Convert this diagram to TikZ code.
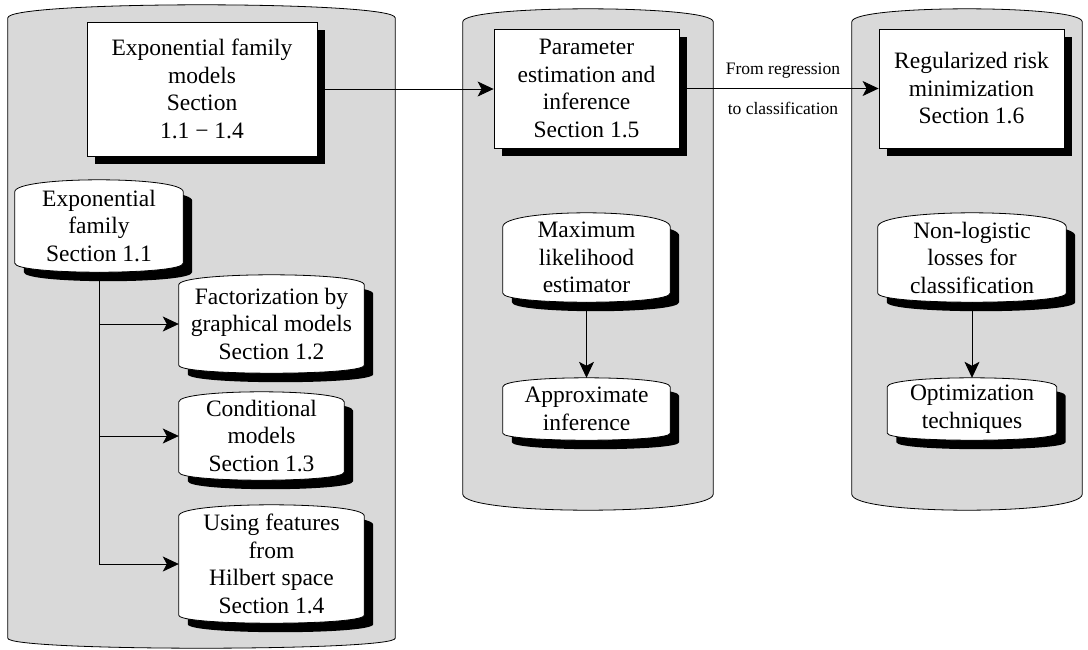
\documentclass[tikz,border=0pt]{standalone}
\usepackage{fontspec}
\setmainfont{Liberation Serif}
\usetikzlibrary{calc,arrows.meta}
\pgfdeclarelayer{background}
\pgfsetlayers{background,main}
\definecolor{panelgray}{RGB}{217,217,217}
% #1 node name, #2 top bulge, #3 bottom bulge
\newcommand\barrel[3]{%
  \begin{pgfonlayer}{background}
  \fill[black] ([shift={(9,9+#2)}]#1.north west) -- ([shift={(9,9-#3)}]#1.south west)
    .. controls +(0,#3*1.333) and +(0,#3*1.333) .. ([shift={(9,9-#3)}]#1.south east)
    -- ([shift={(9,9+#2)}]#1.north east)
    .. controls +(0,-#2*1.333) and +(0,-#2*1.333) .. ([shift={(9,9+#2)}]#1.north west) -- cycle;
  \filldraw[fill=white,draw=black,line width=0.8pt] ([shift={(0,#2)}]#1.north west) -- ([shift={(0,-#3)}]#1.south west)
    .. controls +(0,#3*1.333) and +(0,#3*1.333) .. ([shift={(0,-#3)}]#1.south east)
    -- ([shift={(0,#2)}]#1.north east)
    .. controls +(0,-#2*1.333) and +(0,-#2*1.333) .. ([shift={(0,#2)}]#1.north west) -- cycle;
  \end{pgfonlayer}}
\newcommand\panel[3]{%
  \begin{pgfonlayer}{background}
  \filldraw[fill=panelgray,draw=black,line width=0.8pt] ([shift={(0,#2)}]#1.north west) -- ([shift={(0,-#3)}]#1.south west)
    .. controls +(0,#3*1.333) and +(0,#3*1.333) .. ([shift={(0,-#3)}]#1.south east)
    -- ([shift={(0,#2)}]#1.north east)
    .. controls +(0,-#2*1.333) and +(0,-#2*1.333) .. ([shift={(0,#2)}]#1.north west) -- cycle;
  \end{pgfonlayer}}
\newcommand\rshadow[1]{%
  \begin{pgfonlayer}{background}
  \fill[black] ([shift={(8,8)}]#1.north west) rectangle ([shift={(8,8)}]#1.south east);
  \end{pgfonlayer}}
\begin{document}
\begin{tikzpicture}[x=1pt,y=-1pt,
  txt/.style={font=\fontsize{23.5}{27.5}\selectfont, align=center, inner sep=0pt},
  rbox/.style={txt, draw, fill=white, line width=0.8pt},
  brl/.style={txt},
  pnl/.style={inner sep=0pt},
  arr/.style={-{Stealth[length=16pt,width=15pt,inset=4pt]}, line width=0.8pt},
  con/.style={line width=0.8pt},
  lbl/.style={font=\fontsize{17.5}{21}\selectfont, inner sep=0pt, anchor=base}]
\useasboundingbox (0,0) rectangle (1088,649);

% panels
\node[pnl, minimum width=387pt, minimum height=643pt] (P1) at (201.5,326.5) {};
\node[pnl, minimum width=250pt, minimum height=501pt] (P2) at (588,259.5) {};
\node[pnl, minimum width=230pt, minimum height=501pt] (P3) at (967,259.5) {};
\panel{P1}{13}{10}
\panel{P2}{13}{16}
\panel{P3}{13}{16}

% rectangular boxes
\node[rbox, minimum width=230pt, minimum height=134pt] (A) at (202,89)
  {Exponential family\\models\\Section\\1.1 − 1.4};
\rshadow{A}
\node[rbox, minimum width=185pt, minimum height=119pt] (B) at (586.5,88.5)
  {Parameter\\estimation and\\inference\\Section 1.5};
\rshadow{B}
\node[rbox, minimum width=185pt, minimum height=119pt] (C) at (971.5,88.5)
  {Regularized risk\\minimization\\Section 1.6};
\rshadow{C}

% barrel boxes
\node[brl, minimum width=168pt, minimum height=92pt] (E1) at (99,226) {Exponential\\family\\Section 1.1};
\barrel{E1}{12}{9}
\node[brl, minimum width=185pt, minimum height=98pt] (E2) at (271.5,324) {Factorization by\\graphical models\\Section 1.2};
\barrel{E2}{10}{8}
\node[brl, minimum width=165pt, minimum height=88pt] (E3) at (261.5,436) {Conditional\\models\\Section 1.3};
\barrel{E3}{10}{8}
\node[brl, minimum width=185pt, minimum height=118pt] (E4) at (271.5,564) {Using features\\from\\Hilbert space\\Section 1.4};
\barrel{E4}{11}{8}
\node[brl, minimum width=167pt, minimum height=89pt] (M1) at (586.5,257.5) {Maximum\\likelihood\\estimator};
\barrel{M1}{14}{9}
\node[brl, minimum width=167pt, minimum height=62pt] (M2) at (586.5,409) {Approximate\\inference};
\barrel{M2}{9}{7}
\node[brl, minimum width=188pt, minimum height=89pt] (R1) at (972,257.5) {Non-logistic\\losses for\\classification};
\barrel{R1}{14}{9}
\node[brl, minimum width=169pt, minimum height=62pt] (R2) at (972,409) {Optimization\\techniques};
\barrel{R2}{9}{7}

% connectors
\draw[arr] (A.east) -- (A.east -| B.west);
\draw[arr] (B.east) -- (B.east -| C.west)
  node[lbl, pos=0.52, yshift=14pt] {From regression}
  node[lbl, pos=0.52, yshift=-26pt] {to classification};
\draw[con] (E1.south) -- (E1.south |- E4.west);
\draw[arr] (E1.south) |- (E2.west);
\draw[arr] (E1.south) |- (E3.west);
\draw[arr] (E1.south) |- (E4.west);
\draw[arr] (M1.south) -- (M2.north);
\draw[arr] (R1.south) -- (R1.south |- R2.north);
\end{tikzpicture}
\end{document}
